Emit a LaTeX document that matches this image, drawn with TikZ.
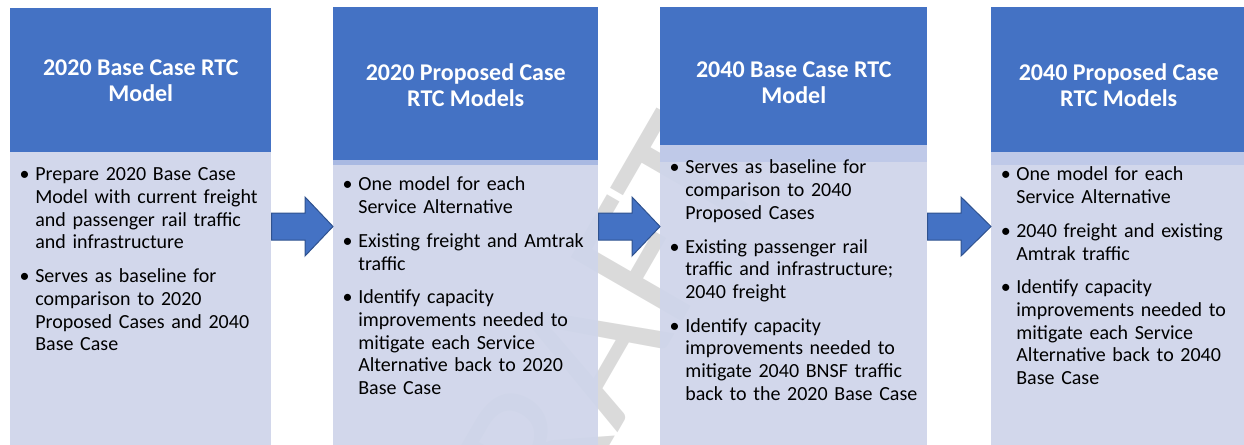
\documentclass[tikz,border=0pt]{standalone}
\usepackage{fontspec}
\setmainfont{Carlito}
\usetikzlibrary{positioning,calc}

\definecolor{hblue}{HTML}{4472C4}
\definecolor{bodylav}{HTML}{CFD5EA}
\definecolor{bandlav}{HTML}{BFC9E8}
\definecolor{stripelav}{HTML}{A9B9E2}
\definecolor{arrowline}{HTML}{2F528F}
\definecolor{wmgray}{HTML}{DADADA}

\newcommand{\bitem}[1]{\par\noindent\hangindent=11.7pt\hangafter=1\makebox[11.7pt][l]{\textbullet}#1\par\vspace{8.3pt}}

\tikzset{
	header/.style={fill=hblue, draw=none, inner sep=0pt, text=white, align=center, font=\fontsize{18}{19.5}\selectfont\bfseries},
	bodybox/.style={fill=bodylav, fill opacity=0.94, draw=none, inner sep=0pt},
	bodytext/.style={inner sep=0pt, text width=192pt, align=left, font=\fontsize{15}{17}\selectfont, below right=4.5pt and 7.1pt of #1},
	blockarrow/.style={fill=hblue, draw=arrowline, line width=0.75pt},
	wmark/.style={rotate=60, text=wmgray, inner sep=0pt, font=\fontsize{150}{150}\selectfont}
}

\begin{document}
\begin{tikzpicture}[x=0.75pt,y=0.75pt,yscale=-1,xscale=1]
	\useasboundingbox (0,0) rectangle (1244,444);

	% Watermark
	\node[wmark] (wm) at (580,370) {DRAFT};

	% Body Node
	\node[bodybox, anchor=north west, minimum width=195.75pt, minimum height=220.5pt] (b1) at (10,152) {};
	\node[bodybox, anchor=north west, minimum width=198.75pt, minimum height=213pt] (b2) at (333,162) {};
	\node[bodybox, anchor=north west, minimum width=200.25pt, minimum height=225.75pt] (b3) at (660,145) {};
	\node[bodybox, anchor=north west, minimum width=191.25pt, minimum height=220.5pt] (b4) at (991,152) {};

	% Header Node
	\node[header, anchor=north west, minimum width=195.75pt, minimum height=108pt] (h1) at (10,8) {2020 Base Case RTC\\Model};
	\node[header, anchor=north west, minimum width=198.75pt, minimum height=116.25pt] (h2) at (333,7) {2020 Proposed Case\\RTC Models};
	\node[header, anchor=north west, minimum width=200.25pt, minimum height=112.5pt] (h3) at (660,7) {2040 Base Case RTC\\Model};
	\node[header, anchor=north west, minimum width=191.25pt, minimum height=117pt] (h4) at (991,7) {2040 Proposed Case\\RTC Models};

	% Band
	\fill[stripelav] (333,160) rectangle (598,165);
	\fill[bandlav] (660,145) rectangle (927,162);
	\fill[bandlav] (991,152) rectangle (1246,165);

	% Text Node
	\node[bodytext=b1.north west] (t1) {%
		\bitem{Prepare 2020 Base Case\newline Model with current freight\newline and passenger rail traffic\newline and infrastructure}
		\bitem{Serves as baseline for\newline comparison to 2020\newline Proposed Cases and 2040\newline Base Case}};
	\node[bodytext=b2.north west] (t2) {%
		\bitem{One model for each\newline Service Alternative}
		\bitem{Existing freight and Amtrak\newline traffic}
		\bitem{Identify capacity\newline improvements needed to\newline mitigate each Service\newline Alternative back to 2020\newline Base Case}};
	\node[bodytext=b3.north west] (t3) {%
		\bitem{Serves as baseline for\newline comparison to 2040\newline Proposed Cases}
		\bitem{Existing passenger rail\newline traffic and infrastructure;\newline 2040 freight}
		\bitem{Identify capacity\newline improvements needed to\newline mitigate 2040 BNSF traffic\newline back to the 2020 Base Case}};
	\node[bodytext=b4.north west] (t4) {%
		\bitem{One model for each\newline Service Alternative}
		\bitem{2040 freight and existing\newline Amtrak traffic}
		\bitem{Identify capacity\newline improvements needed to\newline mitigate each Service\newline Alternative back to 2040\newline Base Case}};

	% Connection
	\draw[blockarrow] (b1.east |- 0,213) -- ($(b2.west |- 0,213)+(-28,0)$) -- ($(b2.west |- 0,197)+(-28,0)$) -- (b2.west |- 0,226.5) -- ($(b2.west |- 0,256)+(-28,0)$) -- ($(b2.west |- 0,240)+(-28,0)$) -- (b1.east |- 0,240) -- cycle;
	% Connection
	\draw[blockarrow] (b2.east |- 0,213) -- ($(b3.west |- 0,213)+(-28,0)$) -- ($(b3.west |- 0,197)+(-28,0)$) -- (b3.west |- 0,226.5) -- ($(b3.west |- 0,256)+(-28,0)$) -- ($(b3.west |- 0,240)+(-28,0)$) -- (b2.east |- 0,240) -- cycle;
	% Connection
	\draw[blockarrow] (b3.east |- 0,213) -- ($(b4.west |- 0,213)+(-30,0)$) -- ($(b4.west |- 0,197)+(-30,0)$) -- (b4.west |- 0,226.5) -- ($(b4.west |- 0,256)+(-30,0)$) -- ($(b4.west |- 0,240)+(-30,0)$) -- (b3.east |- 0,240) -- cycle;

\end{tikzpicture}
\end{document}
